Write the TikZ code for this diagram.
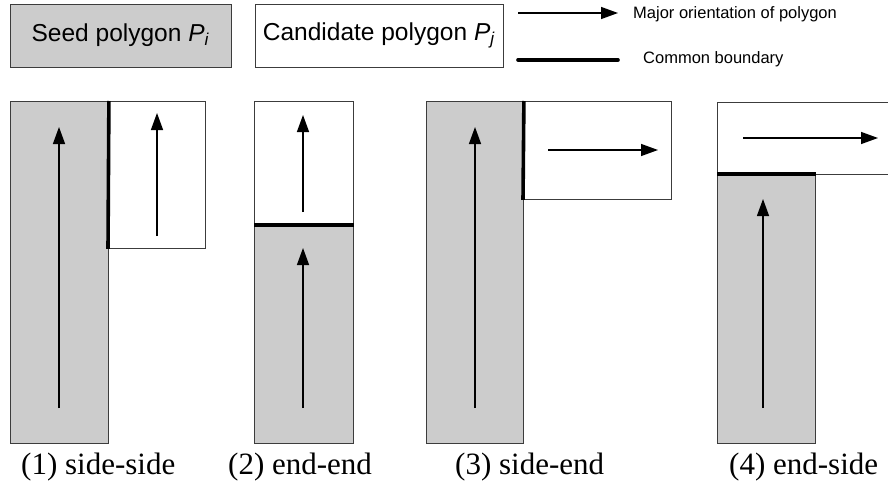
\documentclass[tikz,border=0pt]{standalone}
\usepackage{fontspec}
\setmainfont{Liberation Serif}
\setsansfont{Liberation Sans}
\usepackage{xcolor}
\usetikzlibrary{arrows.meta}
\definecolor{seedgray}{RGB}{204,204,204}
\definecolor{edgegray}{RGB}{60,60,60}

\begin{document}
\begin{tikzpicture}[x=1pt, y=-1pt,
  seedbox/.style={rectangle, draw=edgegray, line width=0.9pt, fill=seedgray, inner sep=0pt},
  candbox/.style={rectangle, draw=edgegray, line width=0.9pt, fill=white, inner sep=0pt},
  keytext/.style={font=\sffamily\fontsize{24.5}{29}\selectfont},
  smalltext/.style={font=\sffamily\fontsize{16.5}{20}\selectfont, inner sep=0pt, anchor=base west},
  caption/.style={font=\fontsize{31}{36}\selectfont, inner sep=0pt, anchor=base west},
  orient/.style={-{Triangle[length=17pt, width=12pt]}, line width=1.4pt},
  common/.style={line width=3.6pt}]
\useasboundingbox (0,0) rectangle (888,484);
\clip (0,0) rectangle (888,484);

\node[seedbox, keytext, minimum width=221pt, minimum height=63pt] (seedkey) at (120.5,35.5) {Seed polygon \textit{P}\textsubscript{\textit{i}}};
\node[candbox, keytext, minimum width=248pt, minimum height=63pt] (candkey) at (379,35.5) {Candidate polygon \textit{P}\textsubscript{\textit{j}}};
\coordinate (orientA) at (518,13);
\coordinate (orientB) at (618,13);
\draw[orient] (orientA) -- (orientB);
\node[smalltext] (orientkey) at (633,18.5) {Major orientation of polygon};
\coordinate (commonA) at (518,60);
\coordinate (commonB) at (618,60);
\draw[common, line cap=round] (commonA) -- (commonB);
\node[smalltext] (commonkey) at (643,63.5) {Common boundary};

\node[seedbox, anchor=north west, minimum width=98pt, minimum height=342pt] (s1) at (10,101) {};
\node[candbox, anchor=north west, minimum width=97pt, minimum height=147pt] (c1) at (108,101) {};
\draw[common] (s1.north east) -- (c1.south west);
\draw[orient] (59,408) -- (59,127);
\draw[orient] (157,236) -- (157,113);

\node[candbox, anchor=north west, minimum width=99pt, minimum height=123pt] (c2) at (254,101) {};
\node[seedbox, anchor=north west, minimum width=99pt, minimum height=219pt] (s2) at (254,224) {};
\draw[common] (c2.south west) -- (c2.south east);
\draw[orient] (303,212) -- (303,115);
\draw[orient] (303,408) -- (303,248);

\node[seedbox, anchor=north west, minimum width=97pt, minimum height=342pt] (s3) at (426,101) {};
\node[candbox, anchor=north west, minimum width=148pt, minimum height=98pt] (c3) at (523,101) {};
\draw[common] (s3.north east) -- (c3.south west);
\draw[orient] (475,408) -- (475,127);
\draw[orient] (548,150) -- (658,150);

\node[candbox, anchor=north west, minimum width=190pt, minimum height=72pt] (c4) at (717,102) {};
\node[seedbox, anchor=north west, minimum width=98pt, minimum height=269pt] (s4) at (717,174) {};
\draw[common] (s4.north west) -- (s4.north east);
\draw[orient] (743,138) -- (878,138);
\draw[orient] (763,408) -- (763,199);

\node[caption] (cap1) at (21,474) {(1) side-side};
\node[caption] (cap2) at (228,474) {(2) end-end};
\node[caption] (cap3) at (455,474) {(3) side-end};
\node[caption] (cap4) at (729,474) {(4) end-side};
\end{tikzpicture}
\end{document}
